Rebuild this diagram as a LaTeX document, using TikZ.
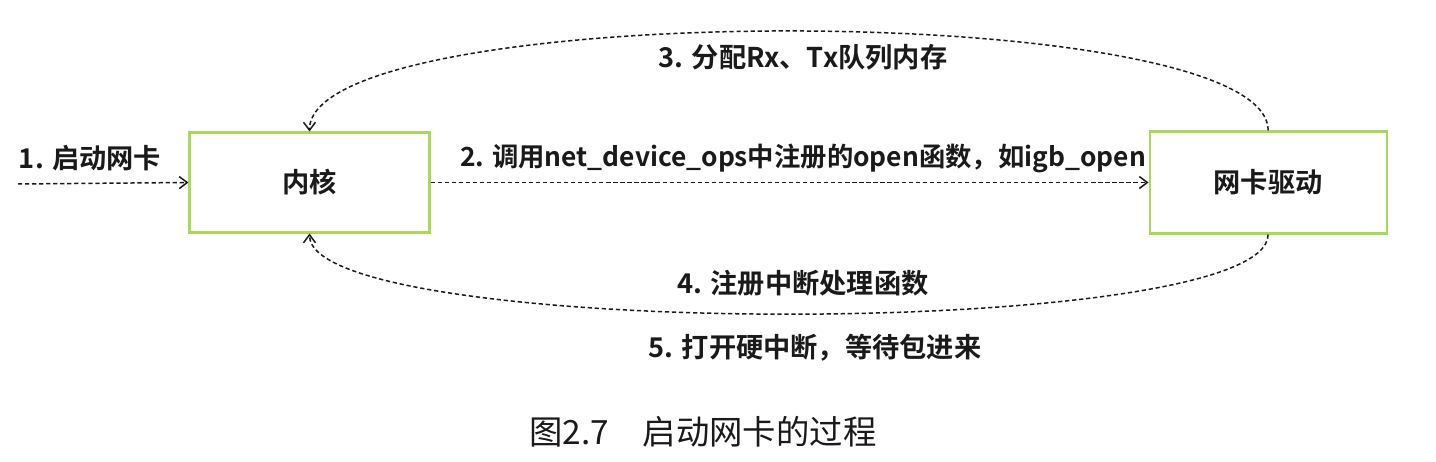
\documentclass[tikz,border=0pt]{standalone}
\usepackage{fontspec}
\usepackage{xcolor}
\usepackage{tikz}
\usetikzlibrary{arrows.meta,positioning}
\newfontfamily\cjk{Noto Sans CJK SC}
\newfontfamily\cjkb{Noto Sans CJK SC Bold}
\definecolor{nicGreen}{HTML}{A8D85C}
\definecolor{nicInk}{HTML}{1A1A1A}
\tikzset{
  % green step box
  nbox/.style={rectangle,draw=nicGreen,line width=1.2pt,fill=white,
    minimum width=4.8cm,minimum height=2cm,
    font=\cjkb\fontsize{15.5}{17}\selectfont,text=nicInk},
  % dashed arrows
  arr/.style={-{Straight Barb[length=1.6mm,width=2.4mm]},
    dash pattern=on 2.4pt off 1.6pt,line width=0.85pt,color=nicInk},
  lbl/.style={font=\cjkb\fontsize{15.5}{17}\selectfont,text=nicInk},
}
\begin{document}
\begin{tikzpicture}
  \useasboundingbox (0,0) rectangle (28.72,-9.24);

  \node[nbox] (kern) at (6.19,-3.65) {内核};
  \node[nbox,right=14.36cm of kern,minimum width=4.74cm,
    minimum height=2.04cm] (drv) {网卡驱动};

  \coordinate (start) at (0.36,-3.68);

  \node[lbl] (l1) at (1.8,-3.16) {1. 启动网卡};
  \node[lbl,font=\cjkb\fontsize{15}{17}\selectfont] (l2) at (16.06,-3.16)
    {2. 调用net\_device\_ops中注册的open函数，如igb\_open};
  \node[lbl] (l3) at (16.06,-1.14) {3. 分配Rx、Tx队列内存};
  \node[lbl] (l4) at (16.06,-5.66) {4. 注册中断处理函数};
  \node[lbl] (l5) at (16.3,-6.96) {5. 打开硬中断，等待包进来};

  \node[font=\cjk\fontsize{19}{21}\selectfont,text=nicInk] (cap)
    at (14.06,-8.64) {图2.7\quad 启动网卡的过程};

  \draw[arr] (start) -- (kern.west);
  \draw[arr] (kern.east) -- (drv.west);
  \draw[arr] (drv.north) .. controls +(0,2.66) and +(0,2.66) .. (kern.north);
  \draw[arr] (drv.south) .. controls +(0,-2.13) and +(0,-2.13) .. (kern.south);
\end{tikzpicture}
\end{document}
